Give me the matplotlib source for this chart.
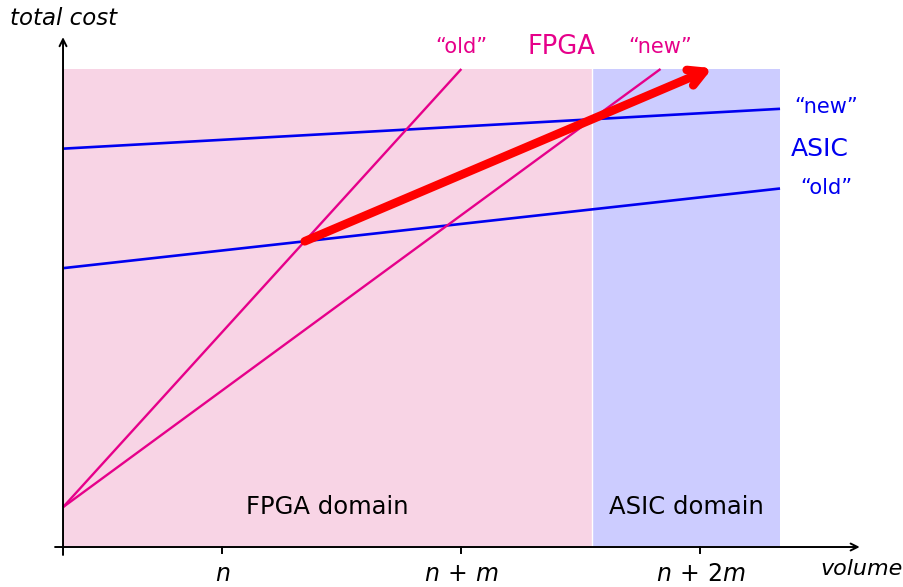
import numpy as np
import matplotlib.pyplot as plt

plt.rcParams['mathtext.fontset'] = 'dejavusans'

# cost model (1 unit = one grid step)
x_max = 9.0            # right end of the volume range
y_top = 6.0            # top of the shaded domains
fpga_start = 0.5       # FPGA cost at zero volume
fpga_end_x = [5.0, 7.5]        # where "old" / "new" FPGA lines reach y_top
asic_start = [3.5, 5.0]        # "old" / "new" ASIC cost at zero volume
asic_end = [4.5, 5.5]          # "old" / "new" ASIC cost at x_max
tick_pos = [2, 5, 8]
tick_labels = [r'$n$', r'$n\,+\,m$', r'$n\,+\,2m$']
arrow_end_x = 8.15

pink = '#E6008A'
pink_fill = '#F8D4E5'
blue = '#0000F0'
blue_fill = '#CCCCFF'

fpga_slope = [(y_top - fpga_start) / xe for xe in fpga_end_x]
asic_slope = [(e - s) / x_max for s, e in zip(asic_start, asic_end)]

# break-even points of old and new technology
cross = []
for fs, a0, as_ in zip(fpga_slope, asic_start, asic_slope):
    xc = (a0 - fpga_start) / (fs - as_)
    cross.append((xc, fpga_start + fs * xc))
x_split = cross[1][0]

fig = plt.figure(figsize=(9.04, 5.87), dpi=100)
ax = fig.add_axes([0, 0, 1, 1])
ax.set_xlim(-0.791, 10.556)
ax.set_ylim(-0.502, 6.866)
ax.axis('off')

# domains
ax.fill_between([0, x_split], 0, y_top, color=pink_fill, lw=0)
ax.fill_between([x_split, x_max], 0, y_top, color=blue_fill, lw=0)
ax.plot([x_split, x_split], [0, y_top], color='white', lw=1)

# ASIC lines
for s, e in zip(asic_start, asic_end):
    ax.plot([0, x_max], [s, e], color=blue, lw=1.9, solid_capstyle='butt')

# FPGA lines
for xe in fpga_end_x:
    ax.plot([0, xe], [fpga_start, y_top], color=pink, lw=1.7, solid_capstyle='butt')

# trend arrow through both break-even points
(x0, y0), (x1, y1) = cross
arrow_end_y = y0 + (y1 - y0) / (x1 - x0) * (arrow_end_x - x0)
ax.annotate('', xy=(arrow_end_x, arrow_end_y), xytext=(x0, y0),
            arrowprops=dict(arrowstyle='->,head_length=1.1,head_width=0.6',
                            color='red', lw=6.2, shrinkA=0, shrinkB=0,
                            joinstyle='round', capstyle='round'))

# axes
ax.annotate('', xy=(10.0, 0), xytext=(-0.1, 0),
            arrowprops=dict(arrowstyle='->,head_length=0.5,head_width=0.25',
                            color='black', lw=1.4, shrinkA=0, shrinkB=0))
ax.annotate('', xy=(0, 6.4), xytext=(0, -0.1),
            arrowprops=dict(arrowstyle='->,head_length=0.5,head_width=0.25',
                            color='black', lw=1.4, shrinkA=0, shrinkB=0))
for t, lab in zip(tick_pos, tick_labels):
    ax.plot([t, t], [-0.08, 0.0], color='black', lw=1.4)
    ax.text(t, -0.34, lab, ha='center', va='center', fontsize=17)

ax.text(0.01, 6.64, 'total cost', style='italic', ha='center', va='center', fontsize=16.5)
ax.text(10.02, -0.28, 'volume', style='italic', ha='center', va='center', fontsize=16)

# labels
ax.text(5.0, 6.27, '\u201cold\u201d', color=pink, ha='center', va='center', fontsize=15)
ax.text(6.25, 6.27, 'FPGA', color=pink, ha='center', va='center', fontsize=18.5)
ax.text(7.5, 6.27, '\u201cnew\u201d', color=pink, ha='center', va='center', fontsize=15)
ax.text(9.58, 5.52, '\u201cnew\u201d', color=blue, ha='center', va='center', fontsize=15)
ax.text(9.5, 5.0, 'ASIC', color=blue, ha='center', va='center', fontsize=18)
ax.text(9.58, 4.51, '\u201cold\u201d', color=blue, ha='center', va='center', fontsize=15)

ax.text(x_split / 2, 0.5, 'FPGA domain', ha='center', va='center', fontsize=17.5)
ax.text((x_split + x_max) / 2, 0.5, 'ASIC domain', ha='center', va='center', fontsize=17.5)

fig.savefig('out.png', dpi=100)
